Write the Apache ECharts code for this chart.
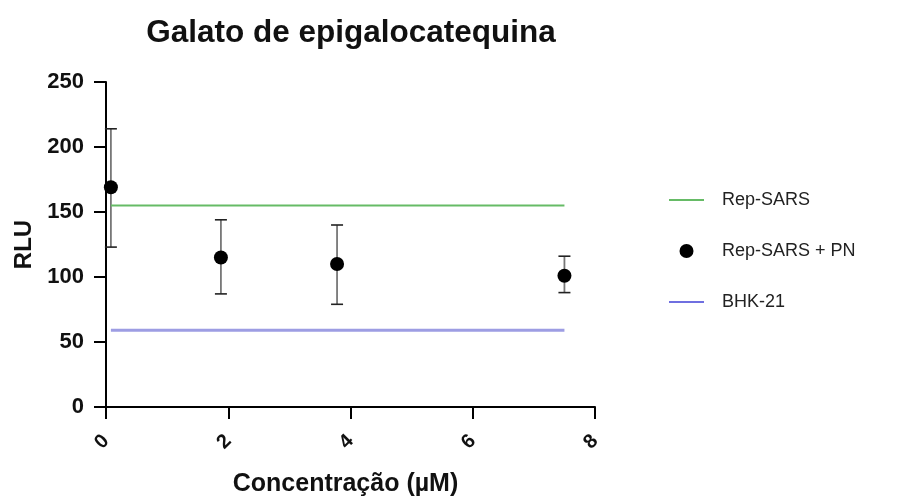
<!DOCTYPE html>
<html>
<head>
<meta charset="utf-8">
<script src="https://cdn.jsdelivr.net/npm/echarts@6/dist/echarts.min.js"></script>
<style>html,body{margin:0;padding:0;background:#fff}#c{width:921px;height:497px}</style>
</head>
<body>
<div id="c"></div>
<script>
// Data
const titleText = 'Galato de epigalocatequina';
const xName = 'Concentração (µM)';
const yName = 'RLU';
const seriesNames = ['Rep-SARS', 'Rep-SARS + PN', 'BHK-21'];
// Rep-SARS + PN points
const pnX = [0.08, 1.88, 3.78, 7.5];
const pnY = [169, 115, 110, 101];
const pnLow = [123, 87, 79, 88];
const pnHigh = [214, 144, 140, 116];
// Reference lines
const lineX = [0.08, 7.5];
const repSarsY = [155, 155];
const bhkY = [59, 59];

const FONT = '"Liberation Sans", Arial, sans-serif';
const chart = echarts.init(document.getElementById('c'), null, {renderer: 'canvas'});

const option = {
  backgroundColor: '#fff',
  animation: false,
  title: {
    text: titleText, left: 346, top: 12, textAlign: 'center',
    textStyle: {fontFamily: FONT, fontWeight: 'bold', fontSize: 31.5, color: '#111'}
  },
  grid: {left: 106, right: 326, top: 82, bottom: 90, containLabel: false, outerBoundsMode: 'none'},
  legend: {
    orient: 'vertical', left: 663, top: 186, itemWidth: 35, itemHeight: 14, itemGap: 33,
    data: [
      {name: seriesNames[0], itemStyle: {opacity: 0}, lineStyle: {width: 2}},
      {name: seriesNames[1], icon: 'circle'},
      {name: seriesNames[2], itemStyle: {opacity: 0}, lineStyle: {width: 2, color: '#6f6fe0'}}
    ],
    textStyle: {fontFamily: FONT, fontSize: 18, color: '#222', padding: [0, 0, 0, 13]}
  },
  xAxis: {
    type: 'value', min: 0, max: 8, interval: 2,
    name: xName, nameLocation: 'middle', nameGap: 65,
    nameTextStyle: {fontFamily: FONT, fontWeight: 'bold', fontSize: 25, color: '#111', padding: [0, 10, 0, 0]},
    axisLine: {lineStyle: {color: '#000', width: 2}},
    axisTick: {length: 12, lineStyle: {color: '#000', width: 2}},
    axisLabel: {rotate: 45, margin: 31, fontFamily: FONT, fontWeight: 'bold', fontSize: 20, color: '#111'},
    splitLine: {show: false}
  },
  yAxis: {
    type: 'value', min: 0, max: 250, interval: 50,
    name: yName, nameLocation: 'middle', nameGap: 70,
    nameTextStyle: {fontFamily: FONT, fontWeight: 'bold', fontSize: 24, color: '#111'},
    axisLine: {show: true, lineStyle: {color: '#000', width: 2}},
    axisTick: {show: true, length: 12, lineStyle: {color: '#000', width: 2}},
    axisLabel: {margin: 22, fontFamily: FONT, fontWeight: 'bold', fontSize: 22, color: '#111'},
    splitLine: {show: false}
  },
  series: [
    {
      name: seriesNames[0], type: 'line', symbol: 'none',
      data: lineX.map((x, i) => [x, repSarsY[i]]),
      lineStyle: {color: '#66bb66', width: 2}, itemStyle: {color: '#66bb66'}
    },
    {
      name: 'errbars', type: 'custom',
      data: pnX.map((x, i) => [x, pnY[i], pnLow[i], pnHigh[i]]),
      renderItem: function (params, api) {
        const x = api.value(0);
        const lo = api.coord([x, api.value(2)]);
        const hi = api.coord([x, api.value(3)]);
        const hw = 6;
        return {
          type: 'group',
          children: [
            {type: 'line', shape: {x1: lo[0], y1: lo[1], x2: hi[0], y2: hi[1]}, style: {stroke: '#777', lineWidth: 1.8}},
            {type: 'line', shape: {x1: lo[0] - hw, y1: lo[1], x2: lo[0] + hw, y2: lo[1]}, style: {stroke: '#222', lineWidth: 1.6}},
            {type: 'line', shape: {x1: hi[0] - hw, y1: hi[1], x2: hi[0] + hw, y2: hi[1]}, style: {stroke: '#222', lineWidth: 1.6}}
          ]
        };
      },
      z: 3
    },
    {
      name: seriesNames[1], type: 'scatter', symbol: 'circle', symbolSize: 14,
      data: pnX.map((x, i) => [x, pnY[i]]),
      itemStyle: {color: '#000', opacity: 1}, z: 4
    },
    {
      name: seriesNames[2], type: 'line', symbol: 'none',
      data: lineX.map((x, i) => [x, bhkY[i]]),
      lineStyle: {color: '#9d9de3', width: 3}, itemStyle: {color: '#9d9de3'}
    }
  ]
};
chart.setOption(option);
</script>
</body>
</html>
